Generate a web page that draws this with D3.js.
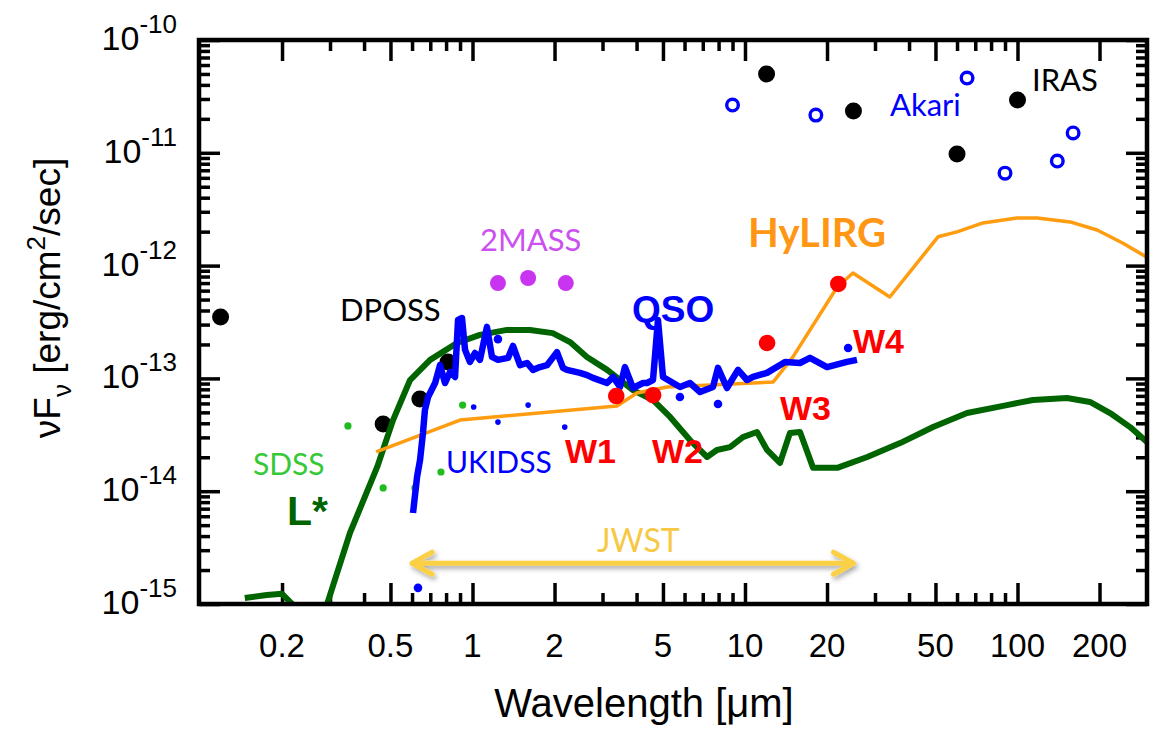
<!DOCTYPE html>
<html>
<head>
<meta charset="utf-8">
<script src="https://cdn.jsdelivr.net/npm/d3@7"></script>
<style>
  body { margin: 0; background: #fff; }
  svg { display: block; font-family: "Liberation Sans", Arial, sans-serif; }
  .note { font-family: Lato, "Open Sans", sans-serif; }
</style>
</head>
<body>
<svg id="sed" width="1153" height="729"></svg>
<script>
// ---- data (wavelength in micron, nuFnu in erg/cm2/s) ----
const lstarWave = [0.146, 0.176, 0.2, 0.233, 0.26, 0.292, 0.355, 0.447, 0.511, 0.59, 0.699, 0.877, 1.065, 1.339, 1.625, 1.97, 2.28, 2.63, 3.12, 3.88, 4.59, 5.31, 6.28, 7.26, 7.89, 8.81, 9.83, 11.07, 12.05, 13.44, 14.62, 15.92, 17.78, 21.8, 28.1, 37.1, 49.0, 65.3, 91.5, 114, 152, 184.5, 218.6, 259, 298.6];
const lstarFlux = [1.13e-15, 1.20e-15, 1.23e-15, 8.5e-16, 5e-16, 9.8e-16, 4.26e-15, 1.64e-14, 4.27e-14, 9.67e-14, 1.46e-13, 2.06e-13, 2.43e-13, 2.69e-13, 2.69e-13, 2.52e-13, 2.1e-13, 1.55e-13, 1.19e-13, 7.88e-14, 6.44e-14, 4.55e-14, 2.84e-14, 2.01e-14, 2.32e-14, 2.46e-14, 3.02e-14, 3.35e-14, 2.32e-14, 1.78e-14, 3.28e-14, 3.35e-14, 1.61e-14, 1.61e-14, 2.01e-14, 2.67e-14, 3.71e-14, 4.93e-14, 5.8e-14, 6.44e-14, 6.7e-14, 6.18e-14, 4.93e-14, 3.7e-14, 2.73e-14];

const hylirgWave = [0.443, 0.900, 3.39, 4.01, 5.18, 12.7, 15.0, 21.8, 24.9, 34.0, 51.1, 60.0, 74.7, 99.5, 118, 156, 196, 244, 301];
const hylirgFlux = [2.23e-14, 4.27e-14, 5.69e-14, 7.43e-14, 8.4e-14, 9.3e-14, 1.55e-13, 6.46e-13, 8.6e-13, 5.27e-13, 1.8e-12, 1.99e-12, 2.39e-12, 2.64e-12, 2.64e-12, 2.44e-12, 2.07e-12, 1.58e-12, 1.17e-12];

const qsoWave = [0.605, 0.626, 0.642, 0.658, 0.669, 0.687, 0.729, 0.760, 0.793, 0.827, 0.863, 0.885, 0.915, 0.939, 0.979, 1.021, 1.065, 1.130, 1.179, 1.240, 1.350, 1.408, 1.494, 1.585, 1.667, 1.769, 1.877, 2.042, 2.148, 2.222, 2.480, 2.632, 2.768, 3.116, 3.278, 3.478, 3.627, 3.881, 4.224, 4.369, 4.596, 4.794, 5.002, 5.774, 6.28, 6.838, 7.630, 7.960, 8.588, 9.426, 10.17, 10.70, 12.04, 14.03, 15.91, 17.32, 20.0, 23.68, 25.76];
const qsoFlux = [6.41e-15, 1.34e-14, 1.89e-14, 3.28e-14, 5.25e-14, 6.84e-14, 9.1e-14, 1.31e-13, 9.1e-14, 1.14e-13, 1.03e-13, 3.30e-13, 3.43e-13, 1.79e-13, 1.40e-13, 1.68e-13, 1.46e-13, 2.86e-13, 1.55e-13, 1.46e-13, 1.52e-13, 1.94e-13, 1.31e-13, 1.37e-13, 1.19e-13, 1.26e-13, 1.31e-13, 1.71e-13, 1.24e-13, 1.19e-13, 1.12e-13, 1.07e-13, 1.01e-13, 9.1e-14, 1.03e-13, 8.39e-14, 1.26e-13, 8.22e-14, 9.1e-14, 9.1e-14, 9.68e-14, 3.30e-13, 1.03e-13, 8.39e-14, 9.1e-14, 7.57e-14, 8.39e-14, 1.24e-13, 8.22e-14, 1.19e-13, 9.68e-14, 1.03e-13, 1.12e-13, 1.40e-13, 1.37e-13, 1.52e-13, 1.26e-13, 1.40e-13, 1.46e-13];

const blackWave = [0.119, 0.47, 0.641, 0.813, 12, 25, 60, 100];
const blackFlux = [3.5e-13, 3.94e-14, 6.56e-14, 1.4e-13, 5.0e-11, 2.35e-11, 9.75e-12, 2.94e-11];

const akariWave = [9.0, 18.2, 65.3, 90, 140, 160];
const akariFlux = [2.65e-11, 2.16e-11, 4.6e-11, 6.6e-12, 8.45e-12, 1.5e-11];

const twomassWave = [1.24, 1.60, 2.20];
const twomassFlux = [7.0e-13, 7.76e-13, 7.0e-13];

const wiseWave = [3.37, 4.6, 12.05, 22];
const wiseFlux = [6.98e-14, 7.1e-14, 2.06e-13, 6.87e-13];

const sdssWave = [0.349, 0.47, 0.615, 0.766, 0.92];
const sdssFlux = [3.79e-14, 1.07e-14, 1.07e-14, 1.48e-14, 5.8e-14];

const ukidssWave = [1.01, 1.24, 1.60, 2.18];
const ukidssFlux = [5.57e-14, 4.1e-14, 5.8e-14, 3.7e-14];

const blueDotWave = [0.631, 1.24, 5.77, 7.96, 23.9];
const blueDotFlux = [1.39e-15, 2.23e-13, 6.84e-14, 5.93e-14, 1.86e-13];

const jwstRange = [0.6, 25];
const jwstLevel = 2.3e-15;

const xMajor = [0.2, 0.5, 1, 2, 5, 10, 20, 50, 100, 200];
const xMinor = [0.3, 0.4, 0.6, 0.7, 0.8, 0.9, 3, 4, 6, 7, 8, 9, 30, 40, 60, 70, 80, 90];
const yMajor = [1e-15, 1e-14, 1e-13, 1e-12, 1e-11, 1e-10];
const yExp = ['-15', '-14', '-13', '-12', '-11', '-10'];

// ---- layout ----
const svg = d3.select('#sed');
const L = 199, R = 1147, T = 40, B = 604;
const x = d3.scaleLog().domain([0.1, 300]).range([200, 1147.5]);
const y = d3.scaleLog().domain([1e-15, 1e-10]).range([B, T]);
const yMinor = [];
yMajor.slice(0, -1).forEach(d => { for (let k = 2; k <= 9; k++) yMinor.push(d * k); });

const defs = svg.append('defs');
defs.append('clipPath').attr('id', 'plot')
  .append('rect').attr('x', L).attr('y', T).attr('width', R - L).attr('height', B - T);

const shadow = defs.append('filter').attr('id', 'shadow')
  .attr('x', '-10%').attr('y', '-100%').attr('width', '120%').attr('height', '300%');
shadow.append('feDropShadow').attr('dx', 2).attr('dy', 3).attr('stdDeviation', 2.5)
  .attr('flood-color', '#000').attr('flood-opacity', 0.35);

// ticks, all pointing inwards
function styleAxis(g) {
  g.select('.domain').remove();
  g.selectAll('.tick line').attr('stroke', '#000').attr('stroke-width', 3.5);
}
const axes = [
  [d3.axisBottom, B, 'x'], [d3.axisTop, T, 'x'],
  [d3.axisLeft, L, 'y'], [d3.axisRight, R, 'y']
];
axes.forEach(([fn, pos, dim]) => {
  const sc = dim === 'x' ? x : y;
  const major = dim === 'x' ? xMajor : yMajor;
  const minor = dim === 'x' ? xMinor : yMinor;
  const tr = dim === 'x' ? `translate(0,${pos})` : `translate(${pos},0)`;
  svg.append('g').attr('transform', tr)
    .call(fn(sc).tickValues(minor).tickSize(-11).tickFormat(''))
    .call(styleAxis);
  svg.append('g').attr('transform', tr)
    .call(fn(sc).tickValues(major).tickSize(-21).tickFormat(''))
    .call(styleAxis);
});

// x tick labels
svg.append('g').selectAll('text').data(xMajor).join('text')
  .attr('x', d => x(d)).attr('y', B + 53)
  .attr('text-anchor', 'middle').attr('font-size', 33).attr('fill', '#000')
  .text(d => d3.format('~g')(d));

// y tick labels, 10^n
const yl = svg.append('g').selectAll('text').data(yMajor).join('text')
  .attr('x', 177).attr('y', d => y(d) + 10)
  .attr('text-anchor', 'end').attr('fill', '#000');
yl.append('tspan').attr('font-size', 34).text('10');
yl.append('tspan').attr('font-size', 26).attr('dy', -17).text((d, i) => yExp[i]);

// axis titles
svg.append('text').attr('x', 644).attr('y', 717).attr('text-anchor', 'middle')
  .attr('font-size', 40).text('Wavelength [\u03bcm]');
const yt = svg.append('text').attr('transform', 'translate(60,298) rotate(-90)')
  .attr('text-anchor', 'middle').attr('font-size', 37);
yt.append('tspan').text('\u03bdF');
yt.append('tspan').attr('font-size', 26).attr('dy', 11).text('\u03bd');
yt.append('tspan').attr('dy', -11).text(' [erg/cm');
yt.append('tspan').attr('font-size', 26).attr('dy', -15).text('2');
yt.append('tspan').attr('dy', 15).text('/sec]');

// ---- curves ----
const line = d3.line().x(d => x(d[0])).y(d => y(d[1]));
const pairs = (w, f) => w.map((d, i) => [d, f[i]]);

// points that sit under the curves
const underG = svg.append('g').attr('clip-path', 'url(#plot)');
underG.selectAll('.blk').data(pairs(blackWave, blackFlux)).join('circle')
  .attr('cx', d => x(d[0])).attr('cy', d => y(d[1])).attr('r', 8.5).attr('fill', '#000');
underG.selectAll('.sdss').data(pairs(sdssWave, sdssFlux)).join('circle')
  .attr('cx', d => x(d[0])).attr('cy', d => y(d[1])).attr('r', 3.6).attr('fill', '#1ebc1e');

const curves = svg.append('g').attr('clip-path', 'url(#plot)');
curves.append('path').datum(pairs(lstarWave, lstarFlux)).attr('d', line)
  .attr('fill', 'none').attr('stroke', '#006400').attr('stroke-width', 6)
  .attr('stroke-linejoin', 'round');
curves.append('path').datum(pairs(hylirgWave, hylirgFlux)).attr('d', line)
  .attr('fill', 'none').attr('stroke', '#ff9c10').attr('stroke-width', 3.5)
  .attr('stroke-linejoin', 'round');
curves.append('path').datum(pairs(qsoWave, qsoFlux)).attr('d', line)
  .attr('fill', 'none').attr('stroke', '#0000ff').attr('stroke-width', 6.5)
  .attr('stroke-linejoin', 'round');

// JWST arrow
const ay = y(jwstLevel), ax0 = x(jwstRange[0]), ax1 = x(jwstRange[1]);
svg.append('path')
  .attr('d', `M${ax0},${ay}H${ax1}M${ax0 + 20},${ay - 11}L${ax0},${ay}L${ax0 + 20},${ay + 11}` +
             `M${ax1 - 20},${ay - 11}L${ax1},${ay}L${ax1 - 20},${ay + 11}`)
  .attr('fill', 'none').attr('stroke', '#fcd044').attr('stroke-width', 5)
  .attr('stroke-linecap', 'round').attr('stroke-linejoin', 'round')
  .attr('filter', 'url(#shadow)');

// points on top
const overG = svg.append('g').attr('clip-path', 'url(#plot)');
overG.selectAll('.ukidss').data(pairs(ukidssWave, ukidssFlux)).join('circle')
  .attr('cx', d => x(d[0])).attr('cy', d => y(d[1])).attr('r', 2.8).attr('fill', '#0000ff');
overG.selectAll('.bd').data(pairs(blueDotWave, blueDotFlux)).join('circle')
  .attr('cx', d => x(d[0])).attr('cy', d => y(d[1])).attr('r', 4.3).attr('fill', '#0000ff');
overG.selectAll('.tm').data(pairs(twomassWave, twomassFlux)).join('circle')
  .attr('cx', d => x(d[0])).attr('cy', d => y(d[1])).attr('r', 8).attr('fill', '#c934f0');
overG.selectAll('.wise').data(pairs(wiseWave, wiseFlux)).join('circle')
  .attr('cx', d => x(d[0])).attr('cy', d => y(d[1])).attr('r', 8.3).attr('fill', '#ff0000');
overG.selectAll('.ak').data(pairs(akariWave, akariFlux)).join('circle')
  .attr('cx', d => x(d[0])).attr('cy', d => y(d[1])).attr('r', 5.8)
  .attr('fill', 'none').attr('stroke', '#0000ff').attr('stroke-width', 3.4);

// frame
svg.append('rect').attr('x', L).attr('y', T).attr('width', R - L).attr('height', B - T)
  .attr('fill', 'none').attr('stroke', '#000').attr('stroke-width', 4.5);

// ---- annotations ----
const notes = [
  { t: '2MASS', x: 480, y: 251, c: '#cc4ff0', s: 31, f: 'note' },
  { t: 'DPOSS', x: 340, y: 321, c: '#000', s: 31, f: 'note' },
  { t: 'SDSS', x: 253, y: 475, c: '#36c936', s: 30, f: 'note' },
  { t: 'UKIDSS', x: 446, y: 473, c: '#0000ff', s: 30, f: 'note' },
  { t: 'Akari', x: 890, y: 116, c: '#0000ff', s: 31, f: 'note' },
  { t: 'IRAS', x: 1032, y: 91, c: '#000', s: 31, f: 'note' },
  { t: 'JWST', x: 597, y: 552, c: '#f7c844', s: 32, f: 'note' },
  { t: 'HyLIRG', x: 748, y: 247, c: '#ff9614', s: 40, f: 'note', b: true },
  { t: 'L*', x: 287, y: 525, c: '#006400', s: 41, b: true },
  { t: 'QSO', x: 632, y: 322, c: '#0000ff', s: 37, b: true },
  { t: 'W1', x: 565, y: 463, c: '#ff0000', s: 34, b: true },
  { t: 'W2', x: 652, y: 463, c: '#ff0000', s: 34, b: true },
  { t: 'W3', x: 780, y: 420, c: '#ff0000', s: 34, b: true },
  { t: 'W4', x: 853, y: 353, c: '#ff0000', s: 34, b: true }
];
svg.append('g').selectAll('text').data(notes).join('text')
  .attr('class', d => d.f || null)
  .attr('x', d => d.x).attr('y', d => d.y)
  .attr('fill', d => d.c).attr('font-size', d => d.s)
  .attr('font-weight', d => d.b ? 'bold' : 'normal')
  .text(d => d.t);
</script>
</body>
</html>
